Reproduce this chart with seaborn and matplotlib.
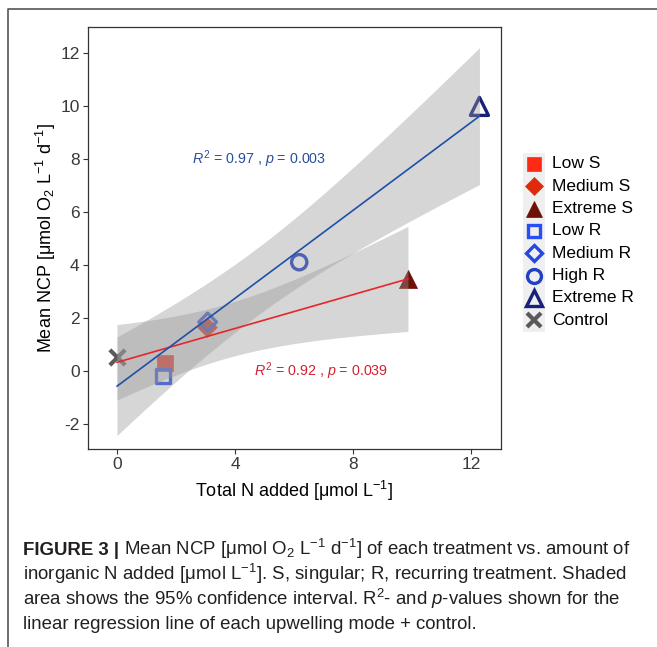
import numpy as np
import pandas as pd
import matplotlib
matplotlib.use("Agg")
import matplotlib.pyplot as plt
import seaborn as sns
from matplotlib.lines import Line2D
from matplotlib.patches import Rectangle

# ---------------- data ----------------
treatments = ["Low S", "Medium S", "Extreme S", "Low R", "Medium R", "High R", "Extreme R", "Control"]
total_n = [1.63, 3.04, 9.85, 1.56, 3.07, 6.17, 12.27, 0.0]
mean_ncp = [0.31, 1.65, 3.46, -0.19, 1.85, 4.11, 10.0, 0.53]
mode = ["S", "S", "S", "R", "R", "R", "R", "Control"]
x_ticks = [0, 4, 8, 12]
y_ticks = [-2, 0, 2, 4, 6, 8, 10, 12]
stat_labels = {"R": r"$R^2$ = 0.97 , $p$ = 0.003", "S": r"$R^2$ = 0.92 , $p$ = 0.039"}
stat_pos = {"R": (2.55, 8.0), "S": (4.65, 0.0)}
t975 = {2: 4.302653, 3: 3.182446}  # Student t quantiles for 95% CI

# ---------------- style ----------------
W, H = 657, 647
sns.set_style("white")
base_font = "Liberation Sans"
plt.rcParams["font.family"] = [base_font, "DejaVu Sans"]
plt.rcParams["mathtext.fontset"] = "custom"
plt.rcParams["mathtext.rm"] = base_font
plt.rcParams["mathtext.it"] = base_font + ":italic"
plt.rcParams["mathtext.bf"] = base_font + ":bold"

marker_style = {
    "Low S": dict(marker="s", color="#FF2A14", filled=True, size=11),
    "Medium S": dict(marker="D", color="#E02A0C", filled=True, size=10),
    "Extreme S": dict(marker="^", color="#6E1006", filled=True, size=13),
    "Low R": dict(marker="s", color="#2B4EF0", filled=False, size=10),
    "Medium R": dict(marker="D", color="#2448E0", filled=False, size=9),
    "High R": dict(marker="o", color="#2140C4", filled=False, size=11),
    "Extreme R": dict(marker="^", color="#17207A", filled=False, size=13),
    "Control": dict(marker="x", color="#5A5A5A", filled=False, size=11),
}
line_colors = {"R": "#1F4FA8", "S": "#E8262A"}
text_colors = {"R": "#2A4E9C", "S": "#D62031"}

df = pd.DataFrame({"treatment": treatments, "total_n": total_n,
                   "mean_ncp": mean_ncp, "mode": mode})

fig = plt.figure(figsize=(W / 100, H / 100), dpi=100)
fig.patch.set_facecolor("white")


def fx(x):
    return x / W


def fy(y):
    return 1 - y / H


ax = fig.add_axes([fx(88), fy(449), fx(501) - fx(88), fy(27) - fy(449)])

# points (under the ribbons, as in ggplot layer order)
for tr in treatments:
    st = marker_style[tr]
    sub = df[df.treatment == tr]
    kw = dict(x="total_n", y="mean_ncp", data=sub, ax=ax, marker=st["marker"],
              s=st["size"] ** 2, legend=False, zorder=1)
    if st["marker"] == "x":
        sns.scatterplot(color=st["color"], linewidth=3, **kw)
    elif st["filled"]:
        sns.scatterplot(color=st["color"], edgecolor=st["color"], linewidth=0.5, **kw)
    else:
        sns.scatterplot(facecolor="none", edgecolor=st["color"], linewidth=2.4, **kw)

# regression ribbons + lines for each upwelling mode + control
for grp in ["S", "R"]:
    sub = df[(df["mode"] == grp) | (df["mode"] == "Control")]
    x = sub.total_n.to_numpy()
    y = sub.mean_ncp.to_numpy()
    n = len(x)
    xm = x.mean()
    sxx = ((x - xm) ** 2).sum()
    b1 = ((x - xm) * (y - y.mean())).sum() / sxx
    b0 = y.mean() - b1 * xm
    resid = y - (b0 + b1 * x)
    s = np.sqrt((resid ** 2).sum() / (n - 2))
    xg = np.linspace(x.min(), x.max(), 120)
    fit = b0 + b1 * xg
    se = s * np.sqrt(1 / n + (xg - xm) ** 2 / sxx)
    tq = t975[n - 2]
    ax.fill_between(xg, fit - tq * se, fit + tq * se, color="#999999", alpha=0.4,
                    linewidth=0, zorder=2)
    sns.regplot(x=x, y=y, ax=ax, scatter=False, ci=None, truncate=True,
                line_kws=dict(color=line_colors[grp], lw=1.2, zorder=4))
    ax.text(stat_pos[grp][0], stat_pos[grp][1], stat_labels[grp], color=text_colors[grp],
            fontsize=10.3, ha="left", va="center", zorder=5)

ax.set_xlim(-0.98, 13.0)
ax.set_ylim(-2.95, 13.0)
ax.set_xticks(x_ticks)
ax.set_yticks(y_ticks)
ax.set_xticklabels([str(v) for v in x_ticks])
ax.set_yticklabels([str(v) for v in y_ticks])
ax.tick_params(axis="both", which="both", direction="out", length=3.5, width=0.8,
               color="#333333", labelsize=12.5, labelcolor="#3A3A3A", pad=2.5,
               bottom=True, left=True)
for sp in ax.spines.values():
    sp.set_visible(True)
    sp.set_color("#333333")
    sp.set_linewidth(0.9)
ax.set_xlabel(r"Total N added [μmol L$^{-1}$]", fontsize=13, color="black", labelpad=5)
ax.set_ylabel(r"Mean NCP [μmol O$_2$ L$^{-1}$ d$^{-1}$]", fontsize=13, color="black", labelpad=1.5)

# legend (drawn manually to match ggplot key layout)
fig.add_artist(Rectangle((fx(523), fy(332)), fx(545) - fx(523), fy(153) - fy(332),
                         transform=fig.transFigure, facecolor="#EFEFEF", edgecolor="none"))
row0, drow = 164, 22.3
for i, tr in enumerate(treatments):
    st = marker_style[tr]
    yy = fy(row0 + i * drow)
    if st["marker"] == "x":
        mk = dict(markerfacecolor=st["color"], markeredgecolor=st["color"], markeredgewidth=3)
    elif st["filled"]:
        mk = dict(markerfacecolor=st["color"], markeredgecolor=st["color"], markeredgewidth=0.5)
    else:
        mk = dict(markerfacecolor="none", markeredgecolor=st["color"], markeredgewidth=2.4)
    fig.add_artist(Line2D([fx(534)], [yy], marker=st["marker"], markersize=st["size"] - 1,
                          linestyle="", transform=fig.transFigure, **mk))
    fig.text(fx(552), yy, tr, fontsize=12.5, ha="left", va="center", color="black")

# outer panel frame
fig.add_artist(Line2D([fx(8), fx(8), fx(W + 5)], [fy(H + 5), fy(9), fy(9)],
                      transform=fig.transFigure, color="#555555", lw=1.2))

# caption
cap_fs = 13.4
cap_color = "#231F20"
fig.canvas.draw()
renderer = fig.canvas.get_renderer()

t_bold = fig.text(fx(23), fy(555), "FIGURE 3 |", fontsize=cap_fs, fontweight="bold",
                  ha="left", va="baseline", color=cap_color)
bw = t_bold.get_window_extent(renderer=renderer).width
fig.text(fx(23 + bw), fy(555),
         r" Mean NCP [μmol O$_2$ L$^{-1}$ d$^{-1}$] of each treatment vs. amount of",
         fontsize=cap_fs, ha="left", va="baseline", color=cap_color)
fig.text(fx(23), fy(580),
         r"inorganic N added [μmol L$^{-1}$]. S, singular; R, recurring treatment. Shaded",
         fontsize=cap_fs, ha="left", va="baseline", color=cap_color)
fig.text(fx(23), fy(605),
         r"area shows the 95% confidence interval. R$^{2}$- and $p$-values shown for the",
         fontsize=cap_fs, ha="left", va="baseline", color=cap_color)
fig.text(fx(23), fy(629),
         "linear regression line of each upwelling mode + control.",
         fontsize=cap_fs, ha="left", va="baseline", color=cap_color)

fig.savefig("out.png", dpi=100, facecolor="white")
